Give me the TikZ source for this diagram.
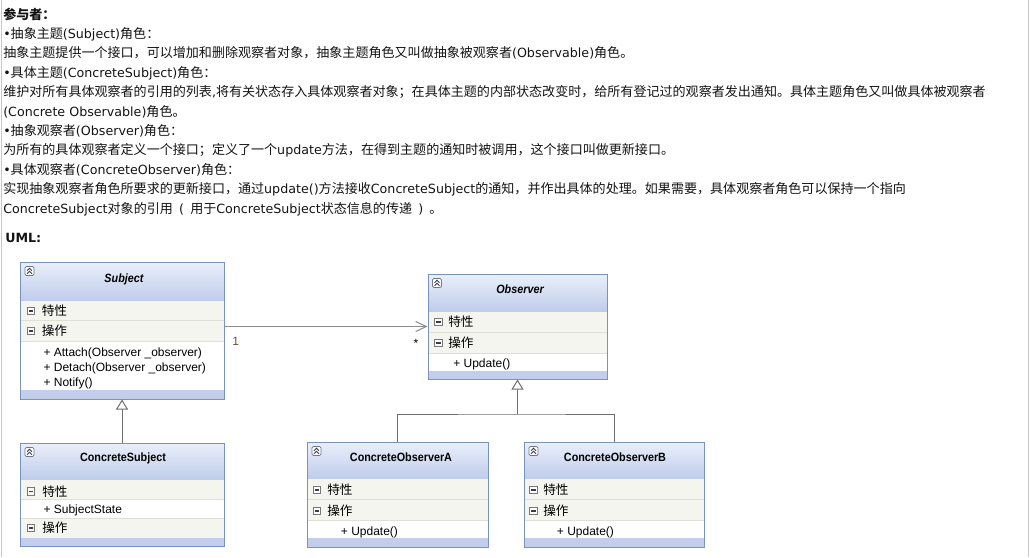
\documentclass[tikz,border=0pt]{standalone}
\usepackage{fontspec}
\setmainfont{DejaVu Sans}
\newfontfamily\cjkfont[Scale=1.03]{Noto Sans CJK SC}
\newfontfamily\umlfont{Liberation Sans}
\newfontfamily\titlefont[FakeStretch=0.9]{Liberation Sans}
\usetikzlibrary{arrows.meta,fit}

\newXeTeXintercharclass\cjkclass
\newcommand\setcjkrange[2]{\count255=#1\relax\loop\XeTeXcharclass\count255=\cjkclass\relax\ifnum\count255<#2\relax\advance\count255 by 1\relax\repeat}
\setcjkrange{"4E00}{"9FFF}
\setcjkrange{"3000}{"303F}
\setcjkrange{"FF00}{"FFEF}
\XeTeXinterchartoks 0 \cjkclass = {\begingroup\cjkfont}
\XeTeXinterchartoks 4095 \cjkclass = {\begingroup\cjkfont}
\XeTeXinterchartoks \cjkclass 0 = {\endgroup}
\XeTeXinterchartoks \cjkclass 4095 = {\endgroup}
\XeTeXinterchartokenstate=1

\newcommand\wlp{\hbox to 13pt{\hss(\hss}}
\newcommand\wrp{\hbox to 13pt{\hss)\hss}}

\definecolor{textcol}{RGB}{20,20,20}
\definecolor{framegray}{RGB}{200,200,200}
\definecolor{headtop}{RGB}{234,239,250}
\definecolor{headbot}{RGB}{190,204,235}
\definecolor{stripcol}{RGB}{194,206,235}
\definecolor{rowfill}{RGB}{244,245,238}
\definecolor{rowline}{RGB}{222,224,214}
\definecolor{classborder}{RGB}{120,146,196}
\definecolor{iconborder}{RGB}{110,120,140}
\definecolor{iconmark}{RGB}{60,60,70}
\definecolor{minusborder}{RGB}{120,120,120}
\definecolor{assoccol}{RGB}{140,140,140}
\definecolor{gencol}{RGB}{110,110,110}
\definecolor{multone}{RGB}{100,88,40}

\newcommand\classframe[5]{\coordinate (#1-nw) at (#2,#3); \coordinate (#1-se) at (#4,#5); \node[classframe, fit=(#1-nw)(#1-se)] (#1) {};}

\begin{document}
\begin{tikzpicture}[x=0.75pt,y=-0.75pt,
  txt/.style={anchor=base west, inner sep=0pt, text=textcol, font=\fontsize{9.5pt}{12pt}\selectfont},
  classframe/.style={draw=classborder, line width=0.75pt, inner sep=0pt},
  ctitle/.style={anchor=base, inner sep=0pt, text=black, font=\titlefont\fontsize{9pt}{10pt}\selectfont\bfseries},
  rowlbl/.style={anchor=base west, inner sep=0pt, text=black, font=\umlfont\fontsize{9.2pt}{10pt}\selectfont},
  member/.style={anchor=base west, inner sep=0pt, text=black, font=\umlfont\fontsize{9pt}{10pt}\selectfont},
  mult/.style={anchor=base, inner sep=0pt, font=\umlfont\fontsize{9pt}{10pt}\selectfont},
  assoc/.style={draw=assoccol, line width=0.75pt, -{Straight Barb[length=8pt,width=7.5pt]}},
  gen/.style={draw=gencol, line width=0.75pt, -{Triangle[length=7.5pt,width=9pt,fill=white]}},
  treeline/.style={draw=gencol, line width=0.75pt},
  collapseicon/.pic={
    \draw[draw=iconborder, fill=white, rounded corners=1pt, line width=0.6pt] (-4.5,-4.5) rectangle (4.5,4.5);
    \draw[iconmark, line width=0.7pt] (-2.5,-0.3) -- (0,-2.8) -- (2.5,-0.3) (-2.5,2.7) -- (0,0.2) -- (2.5,2.7);
  },
  minusicon/.pic={
    \draw[draw=minusborder, fill=white, line width=0.6pt] (-3.8,-3.8) rectangle (3.8,3.8);
    \draw[iconmark, line width=0.8pt] (-2.2,0) -- (2.2,0);
  }
]
\useasboundingbox (0,0) rectangle (1030,557);
\fill[white] (0,0) rectangle (1030,557);
\draw[framegray, line width=0.75pt] (1,0) -- (1,557) (1028.5,0) -- (1028.5,557);

% ---------- text ----------
\node[txt] (l1) at (3,19) {\bfseries 参与者：};
\node[txt] (l2) at (3,38.4) {•抽象主题(Subject)角色：};
\node[txt] (l3) at (3,57.8) {抽象主题提供一个接口，可以增加和删除观察者对象，抽象主题角色又叫做抽象被观察者(Observable)角色。};
\node[txt] (l4) at (3,77.2) {•具体主题(ConcreteSubject)角色：};
\node[txt] (l5) at (3,96.6) {维护对所有具体观察者的引用的列表,将有关状态存入具体观察者对象；在具体主题的内部状态改变时，给所有登记过的观察者发出通知。具体主题角色又叫做具体被观察者};
\node[txt] (l6) at (3,116) {(Concrete Observable)角色。};
\node[txt] (l7) at (3,135.4) {•抽象观察者(Observer)角色：};
\node[txt] (l8) at (3,154.8) {为所有的具体观察者定义一个接口；定义了一个update方法，在得到主题的通知时被调用，这个接口叫做更新接口。};
\node[txt] (l9) at (3,174.2) {•具体观察者(ConcreteObserver)角色：};
\node[txt] (l10) at (3,193.6) {实现抽象观察者角色所要求的更新接口，通过update()方法接收ConcreteSubject的通知，并作出具体的处理。如果需要，具体观察者角色可以保持一个指向};
\node[txt] (l11) at (3,213) {ConcreteSubject对象的引用\wlp 用于ConcreteSubject状态信息的传递\wrp 。};
\node[txt] (l12) at (5,242.5) {\bfseries UML:};

% ---------- Subject ----------
\shade[top color=headtop,bottom color=headbot] (20,262) rectangle (224,301);
\fill[rowfill] (20,301) rectangle (224,341);
\fill[white] (20,341) rectangle (224,390);
\fill[stripcol] (20,390) rectangle (224,399);
\draw[rowline, line width=0.75pt] (20,320.5) -- (224,320.5) (20,341) -- (224,341);
\classframe{subject}{20}{262}{224}{399}
\node[ctitle] (subject-title) at (124,282) {\itshape Subject};
\pic at (29.5,271) {collapseicon};
\pic at (31,311) {minusicon};
\node[rowlbl] (subject-attr) at (41.5,315.5) {特性};
\pic at (31,331) {minusicon};
\node[rowlbl] (subject-ops) at (41.5,335.5) {操作};
\node[member] (subject-m1) at (43.3,356.5) {+ Attach(Observer \_observer)};
\node[member] (subject-m2) at (43.3,371.5) {+ Detach(Observer \_observer)};
\node[member] (subject-m3) at (43.3,386.5) {+ Notify()};

% ---------- Observer ----------
\shade[top color=headtop,bottom color=headbot] (428,274) rectangle (607,312);
\fill[rowfill] (428,312) rectangle (607,353);
\fill[white] (428,353) rectangle (607,371);
\fill[stripcol] (428,371) rectangle (607,379);
\draw[rowline, line width=0.75pt] (428,332.5) -- (607,332.5) (428,353) -- (607,353);
\classframe{observer}{428}{274}{607}{379}
\node[ctitle] (observer-title) at (520,293.3) {\itshape Observer};
\pic at (437,283) {collapseicon};
\pic at (438.5,322) {minusicon};
\node[rowlbl] (observer-attr) at (448,326.5) {特性};
\pic at (438.5,343) {minusicon};
\node[rowlbl] (observer-ops) at (448,347.5) {操作};
\node[member] (observer-m1) at (453,367.5) {+ Update()};

% ---------- ConcreteSubject ----------
\shade[top color=headtop,bottom color=headbot] (20,443) rectangle (224,480);
\fill[rowfill] (20,480) rectangle (224,499);
\fill[white] (20,499) rectangle (224,518);
\fill[rowfill] (20,518) rectangle (224,538);
\fill[stripcol] (20,538) rectangle (224,546);
\draw[rowline, line width=0.75pt] (20,499) -- (224,499) (20,518) -- (224,518);
\classframe{csub}{20}{443}{224}{546}
\node[ctitle] (csub-title) at (123,461) {ConcreteSubject};
\pic at (29.5,452) {collapseicon};
\pic at (31,491.5) {minusicon};
\node[rowlbl] (csub-attr) at (42,496) {特性};
\node[member] (csub-m1) at (43.3,513.5) {+ SubjectState};
\pic at (31,528) {minusicon};
\node[rowlbl] (csub-ops) at (42,532.5) {操作};

% ---------- ConcreteObserverA ----------
\shade[top color=headtop,bottom color=headbot] (307,442) rectangle (488,479);
\fill[rowfill] (307,479) rectangle (488,520);
\fill[white] (307,520) rectangle (488,538);
\fill[stripcol] (307,538) rectangle (488,547);
\draw[rowline, line width=0.75pt] (307,499.5) -- (488,499.5) (307,520) -- (488,520);
\classframe{coa}{307}{442}{488}{547}
\node[ctitle] (coa-title) at (401,461) {ConcreteObserverA};
\pic at (316.5,451) {collapseicon};
\pic at (317,490) {minusicon};
\node[rowlbl] (coa-attr) at (327,494.5) {特性};
\pic at (317,511) {minusicon};
\node[rowlbl] (coa-ops) at (327,515.5) {操作};
\node[member] (coa-m1) at (340.7,535.5) {+ Update()};

% ---------- ConcreteObserverB ----------
\shade[top color=headtop,bottom color=headbot] (524,442) rectangle (704,479);
\fill[rowfill] (524,479) rectangle (704,520);
\fill[white] (524,520) rectangle (704,538);
\fill[stripcol] (524,538) rectangle (704,547);
\draw[rowline, line width=0.75pt] (524,499.5) -- (704,499.5) (524,520) -- (704,520);
\classframe{cob}{524}{442}{704}{547}
\node[ctitle] (cob-title) at (615,461) {ConcreteObserverB};
\pic at (533.5,451) {collapseicon};
\pic at (533.5,490) {minusicon};
\node[rowlbl] (cob-attr) at (543,494.5) {特性};
\pic at (533.5,511) {minusicon};
\node[rowlbl] (cob-ops) at (543,515.5) {操作};
\node[member] (cob-m1) at (556.7,535.5) {+ Update()};

% ---------- connectors ----------
\coordinate (assocy) at (0,326.5);
\draw[assoc] (subject.east |- assocy) -- (observer.west |- assocy);
\node[mult, text=multone] (mult-one) at (235.8,345) {1};
\node[mult, text=black] (mult-many) at (416,347) {*};

\draw[gen] (csub.north) -- (subject.south);

\coordinate (junction) at (observer.south |- 0,414);
\draw[treeline] (coa.north) |- (junction) -| (cob.north);
\draw[gen] (junction) -- (observer.south);
\end{tikzpicture}
\end{document}
